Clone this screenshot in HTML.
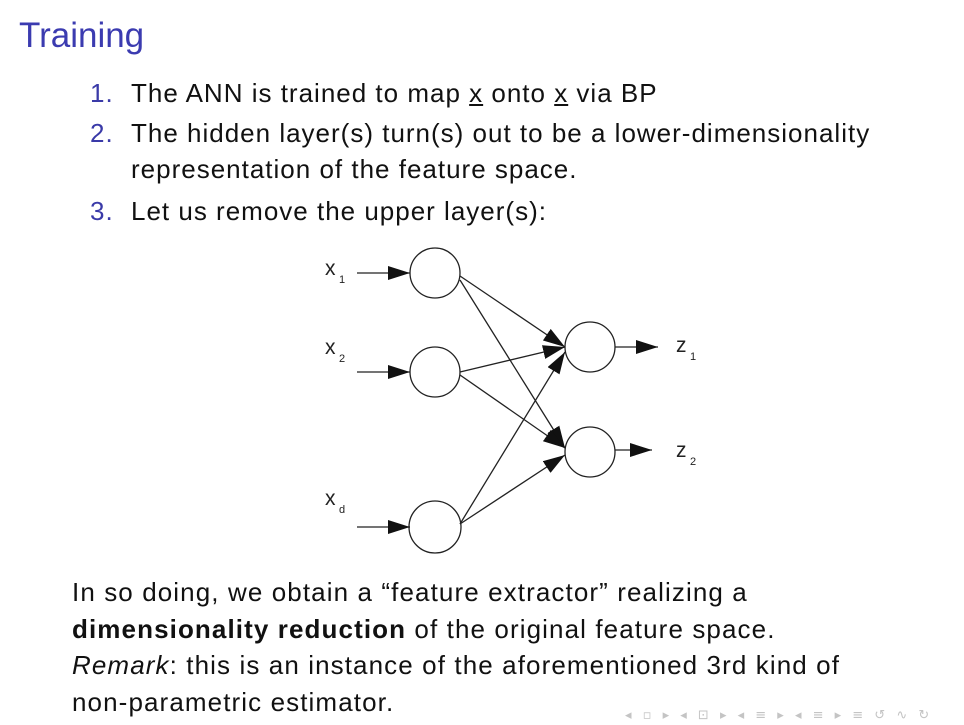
<!DOCTYPE html>
<html><head><style>
body{margin:0;width:964px;height:725px;background:#fff;overflow:hidden;position:relative;font-family:"Liberation Sans",sans-serif;color:#111}
.t{position:absolute;white-space:nowrap}
.n{color:#3a3aa8}
.l{font-size:26px;letter-spacing:1px}
.b{font-size:26px;letter-spacing:1.1px}
</style></head><body>
<div class="t" style="left:19px;top:16px;font-size:35px;color:#3b3bb0">Training</div>
<div class="t l" style="left:90px;top:78px"><span class="n">1.</span></div>
<div class="t l" style="left:131px;top:78px">The ANN is trained to map <u>x</u> onto <u>x</u> via BP</div>
<div class="t l" style="left:90px;top:118px"><span class="n">2.</span></div>
<div class="t l" style="left:131px;top:118px">The hidden layer(s) turn(s) out to be a lower-dimensionality</div>
<div class="t l" style="left:131px;top:154px">representation of the feature space.</div>
<div class="t l" style="left:90px;top:196px"><span class="n">3.</span></div>
<div class="t l" style="left:131px;top:196px">Let us remove the upper layer(s):</div>
<svg style="position:absolute;left:0;top:0" width="964" height="725">
<defs>
<marker id="b" markerWidth="22" markerHeight="14" refX="22" refY="7" orient="auto" markerUnits="userSpaceOnUse"><path d="M0,0L22,7L0,14Z" fill="#111"/></marker></defs>
<g stroke="#222" stroke-width="1.3" fill="none">
<circle cx="435" cy="273" r="25"/><circle cx="435" cy="372" r="25"/><circle cx="435" cy="527" r="26"/>
<circle cx="590" cy="347" r="25"/><circle cx="590" cy="452" r="25"/>
<line x1="357" y1="273" x2="410" y2="273" marker-end="url(#b)"/>
<line x1="357" y1="372" x2="410" y2="372" marker-end="url(#b)"/>
<line x1="357" y1="527" x2="410" y2="527" marker-end="url(#b)"/>
<line x1="615" y1="347" x2="658" y2="347" marker-end="url(#b)"/>
<line x1="615" y1="450" x2="652" y2="450" marker-end="url(#b)"/>
<line x1="460" y1="276" x2="565" y2="347" marker-end="url(#b)"/>
<line x1="460" y1="280" x2="565" y2="448" marker-end="url(#b)"/>
<line x1="460" y1="372" x2="565" y2="347" marker-end="url(#b)"/>
<line x1="460" y1="375" x2="565" y2="448" marker-end="url(#b)"/>
<line x1="460" y1="524" x2="565" y2="352" marker-end="url(#b)"/>
<line x1="460" y1="524" x2="565" y2="455" marker-end="url(#b)"/>
</g>
<g font-family="Liberation Sans,sans-serif" fill="#222">
<text x="325" y="275" font-size="21">x</text><text x="339" y="283" font-size="11">1</text>
<text x="325" y="354" font-size="21">x</text><text x="339" y="362" font-size="11">2</text>
<text x="325" y="505" font-size="21">x</text><text x="339" y="513" font-size="11">d</text>
<text x="676" y="352" font-size="21">z</text><text x="690" y="360" font-size="11">1</text>
<text x="676" y="457" font-size="21">z</text><text x="690" y="465" font-size="11">2</text>
</g>
<text x="625" y="719" font-size="13" fill="#c4c4c4" font-family="DejaVu Sans,sans-serif" letter-spacing="3.5">◂ ▫ ▸ ◂ ⊡ ▸ ◂ ≡ ▸ ◂ ≡ ▸  ≡  ↺ ∿ ↻</text>
</svg>
<div class="t b" style="left:72px;top:577px">In so doing, we obtain a “feature extractor” realizing a</div>
<div class="t b" style="left:72px;top:614px"><b>dimensionality reduction</b> of the original feature space.</div>
<div class="t b" style="left:72px;top:650px"><i>Remark</i>: this is an instance of the aforementioned 3rd kind of</div>
<div class="t b" style="left:72px;top:687px">non-parametric estimator.</div>
</body></html>
